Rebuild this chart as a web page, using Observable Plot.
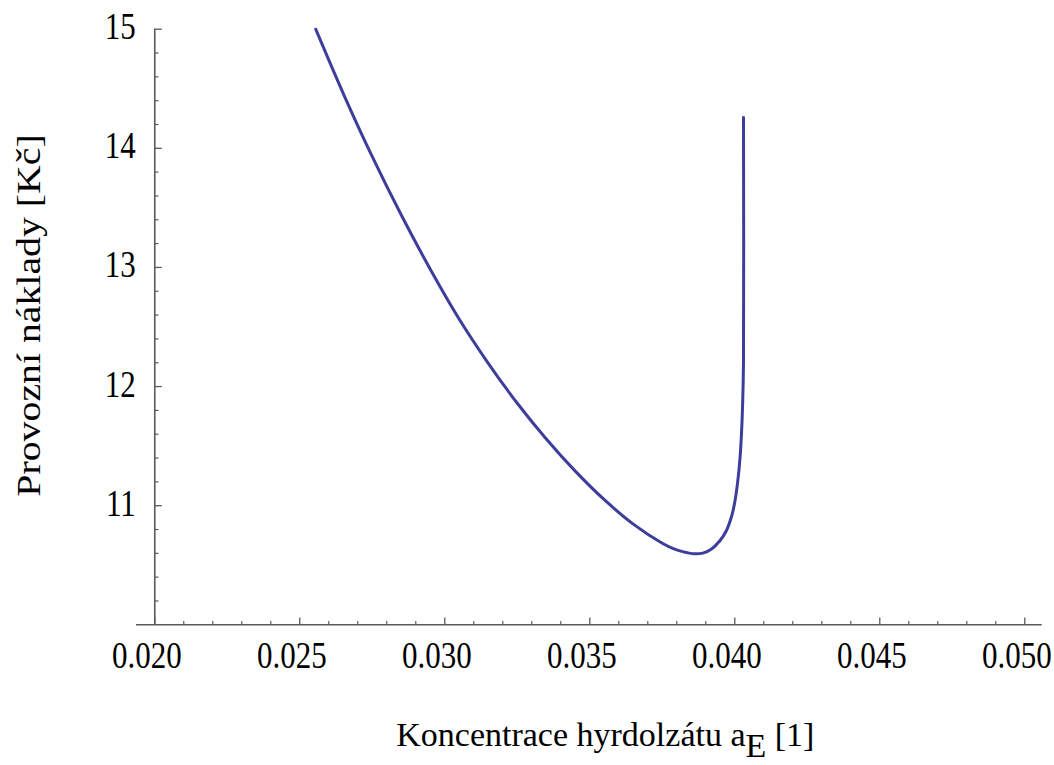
<!DOCTYPE html>
<html><head><meta charset="utf-8">
<script src="https://cdn.jsdelivr.net/npm/d3@7"></script>
<script src="https://cdn.jsdelivr.net/npm/@observablehq/plot@0.6"></script>
<style>
body{margin:0;background:#fff}
svg text{font-family:"Liberation Serif","Times New Roman",serif}
</style>
</head><body><div id="chart"></div>
<script>
// Curve: concentration of hydrolysate a_E vs. operating cost [Kč]
const aE   = [0.02555,0.0265,0.0275,0.0285,0.0295,0.0305,0.0315,0.0325,0.0335,0.0345,0.0355,0.0365,0.0375,0.0379,0.0382,0.0386,0.0389,0.0392,0.0395,0.0397,0.0399,0.0400,0.0401,0.04018,0.04023,0.04027,0.0403,0.0403];
const cost = [15.00,14.46,13.93,13.44,12.985,12.565,12.195,11.86,11.56,11.29,11.05,10.845,10.685,10.638,10.614,10.596,10.602,10.637,10.71,10.785,10.92,11.03,11.20,11.40,11.60,11.85,12.20,14.258];

const xMajor = [0.020,0.025,0.030,0.035,0.040,0.045,0.050];
const xMinor = [0.021,0.022,0.023,0.024,0.026,0.027,0.028,0.029,0.031,0.032,0.033,0.034,0.036,0.037,0.038,0.039,0.041,0.042,0.043,0.044,0.046,0.047,0.048,0.049];
const yMajor = [11,12,13,14,15];
const yMinor = [10.2,10.4,10.6,10.8,11.2,11.4,11.6,11.8,12.2,12.4,12.6,12.8,13.2,13.4,13.6,13.8,14.2,14.4,14.6,14.8];
const xDomain = [0.01937,0.0506];
const yDomain = [10,15];
const xOrigin = 0.020, yOrigin = 10;
const xTitle = "Koncentrace hyrdolzátu a";
const xTitleSub = "E";
const xTitleTail = " [1]";
const yTitle = "Provozní náklady [Kč]";

const data = aE.map((x,i)=>({x, y: cost[i]}));

const W = 1054, H = 765;
const mL = 136, mR = 12.3, mT = 28.7, mB = 140.7;
const pxX = (W - mL - mR) / (xDomain[1]-xDomain[0]);
const pxY = (H - mT - mB) / (yDomain[1]-yDomain[0]);
const axisColor = "#5a5a5a";
const curveColor = "#3d3d9b";

const chart = Plot.plot({
  width: W, height: H,
  marginLeft: mL, marginRight: mR, marginTop: mT, marginBottom: mB,
  x: {domain: xDomain, axis: null},
  y: {domain: yDomain, axis: null},
  style: {fontFamily: "Liberation Serif, Times New Roman, serif", background: "#fff"},
  marks: [
    Plot.ruleY([yOrigin], {x1: xDomain[0], x2: xDomain[1], stroke: axisColor, strokeWidth: 1.6}),
    Plot.ruleX([xOrigin], {y1: yDomain[0], y2: yDomain[1], stroke: axisColor, strokeWidth: 1.6}),
    Plot.ruleX(xMajor, {y1: yOrigin, y2: yOrigin + 6.7/pxY, stroke: axisColor, strokeWidth: 1.3}),
    Plot.ruleX(xMinor, {y1: yOrigin, y2: yOrigin + 3.4/pxY, stroke: axisColor, strokeWidth: 1.2}),
    Plot.ruleY(yMajor, {x1: xOrigin, x2: xOrigin + 7.5/pxX, stroke: axisColor, strokeWidth: 1.3}),
    Plot.ruleY(yMinor, {x1: xOrigin, x2: xOrigin + 4.2/pxX, stroke: axisColor, strokeWidth: 1.2}),
    Plot.text(xMajor, {x: d=>d, y: yOrigin, text: d=>d3.format(".3f")(d), dy: 31, dx: -8, fontSize: 31, fill: "#000", lineAnchor: "middle", textAnchor: "middle", className: "tl"}),
    Plot.text(yMajor, {x: xOrigin, y: d=>d, text: d=>String(d), dx: -19, dy: -2, fontSize: 31, fill: "#000", lineAnchor: "middle", textAnchor: "end", className: "tl"}),
    Plot.line(data, {x: "x", y: "y", stroke: curveColor, strokeWidth: 3, curve: "catmull-rom"}),
    Plot.text([xTitle], {frameAnchor: "bottom", text: d=>d, dx: 16, dy: 110, fontSize: 34, fill: "#000", textAnchor: "middle", lineAnchor: "middle", className: "xtitle"}),
    Plot.text([yTitle], {frameAnchor: "left", text: d=>d, rotate: -90, dx: -107, dy: -11.5, fontSize: 34, fill: "#000", textAnchor: "middle", lineAnchor: "middle", className: "ytitle"})
  ]
});
document.getElementById("chart").appendChild(chart);

// subscript in x title
d3.select(chart).selectAll("g.xtitle text").each(function(){
  const t = d3.select(this);
  t.text(null);
  t.append("tspan").text(xTitle);
  t.append("tspan").attr("dy", "0.32em").text(xTitleSub);
  t.append("tspan").attr("dy", "-0.32em").text(xTitleTail);
});
// taller glyphs like the reference rendering
function stretch(sel, sx, sy) {
  d3.select(chart).selectAll(sel).each(function(){
    const b = this.getBBox();
    const cx = b.x + b.width/2, cy = b.y + b.height/2;
    const prev = this.getAttribute("transform") || "";
    this.setAttribute("transform", `${prev} translate(${cx},${cy}) scale(${sx},${sy}) translate(${-cx},${-cy})`);
  });
}
stretch("g.tl text", 1, 1.2);
stretch("g.ytitle text", 1.17, 1);
</script>
</body></html>
